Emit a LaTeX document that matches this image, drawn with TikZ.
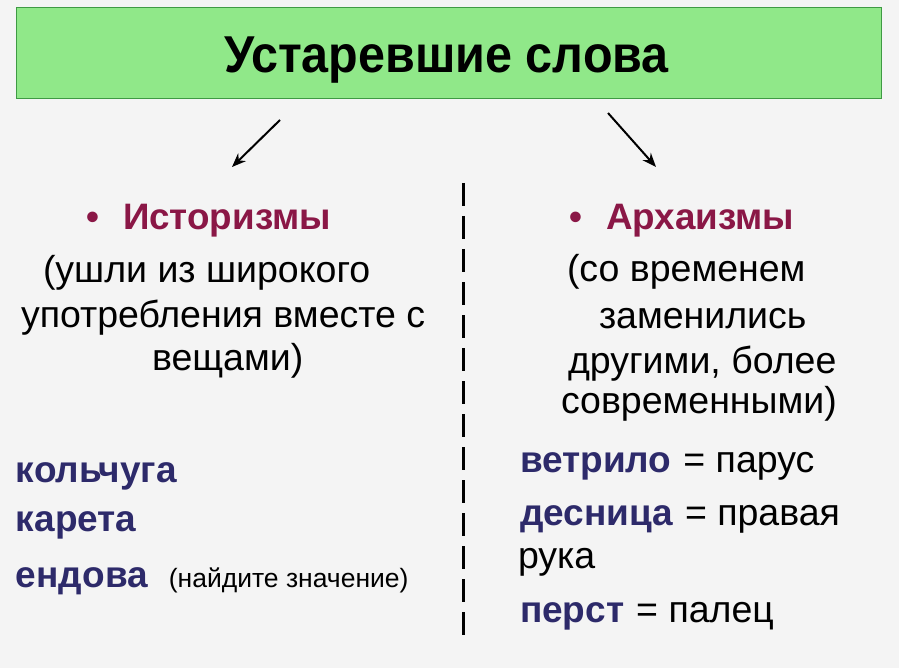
\documentclass[tikz,border=0pt]{standalone}
\usepackage{fontspec}
\setmainfont{Liberation Sans}
\usetikzlibrary{positioning,arrows.meta}
\definecolor{paper}{HTML}{F4F4F4}
\definecolor{boxgreen}{HTML}{90E889}
\definecolor{boxedge}{HTML}{3F9A44}
\definecolor{headred}{HTML}{8A1746}
\definecolor{wordblue}{HTML}{2D2A6A}

\begin{document}
\begin{tikzpicture}
  [x=1pt,y=-1pt,
   every node/.style={inner sep=0pt, outer sep=0pt},
   head/.style={font=\fontsize{36.8}{40}\selectfont\bfseries, text=headred, anchor=base west},
   plain/.style={font=\fontsize{37.5}{42}\selectfont, anchor=base west},
   word/.style={font=\fontsize{37}{42}\selectfont\bfseries, text=wordblue, anchor=base west},
   arr/.style={line width=2pt, -{Stealth[length=14pt,width=11pt]}}]
  \fill[paper] (0,0) rectangle (899,668);
  \useasboundingbox (0,0) rectangle (899,668);

  % title
  \node[draw=boxedge, fill=boxgreen, line width=1pt, minimum width=865pt, minimum height=91pt] (title) at (448.5,53.5) {};
  \node[font=\fontsize{48.5}{54}\selectfont\bfseries, anchor=base] (titletext) at (446.5,72.5) {\scalebox{1}[1.07]{Устаревшие слова}};

  \coordinate (la) at (280,120);
  \coordinate (lb) at (232,167);
  \coordinate (ra) at (608,113);
  \coordinate (rb) at (656,167);
  \draw[arr] (la) -- (lb);
  \draw[arr] (ra) -- (rb);

  % divider
  \coordinate (dtop) at (463.5,183);
  \coordinate (dbot) at (463.5,637);
  \draw[line width=3pt, dash pattern=on 23pt off 10pt] (dtop) -- (dbot);

  % left column
  \node[head] (hist) at (123,230) {Историзмы};
  \node[head, anchor=base east] (histdot) at ([xshift=-24pt]hist.base west) {•};
  \node[plain] (h1) at (43,283) {(ушли из широкого};
  \node[plain] (h2) at (21,327) {употребления вместе с};
  \node[plain] (h3) at (152,370) {вещами)};

  \node[word] (kolch) at (16,482) {кольчуга};
  \node[word] (kar) at (16,531) {карета};
  \node[word] (endova) at (16,587) {ендова};
  \node[plain, font=\fontsize{26.5}{30}\selectfont] (hint) at ([xshift=21pt]endova.base east) {(найдите значение)};

  % right column
  \node[head] (arch) at (606,230) {Архаизмы};
  \node[head, anchor=base east] (archdot) at ([xshift=-24pt]arch.base west) {•};
  \node[plain] (a1) at (567,282) {(со временем};
  \node[plain] (a2) at (599,328) {заменились};
  \node[plain] (a3) at (568,373) {другими, более};
  \node[plain] (a4) at (561,413) {современными)};

  \node[word] (vetr) at (520,472) {ветрило};
  \node[plain] (parus) at ([xshift=12pt]vetr.base east) {= парус};
  \node[word] (desn) at (520,525) {десница};
  \node[plain] (prav) at ([xshift=12pt]desn.base east) {= правая};
  \node[plain] (ruka) at (518,568) {рука};
  \node[word] (perst) at (520,622) {перст};
  \node[plain] (palec) at ([xshift=12pt]perst.base east) {= палец};
\end{tikzpicture}
\end{document}
